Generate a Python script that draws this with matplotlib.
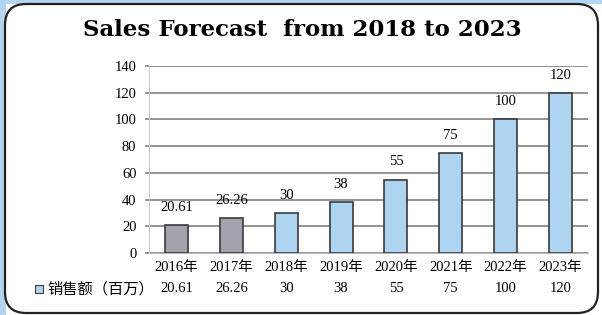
import matplotlib
matplotlib.use("Agg")
import matplotlib.pyplot as plt
from matplotlib.patches import FancyBboxPatch, Rectangle
import matplotlib.transforms as mtransforms

years = ["2016年", "2017年", "2018年", "2019年", "2020年", "2021年", "2022年", "2023年"]
sales = [20.61, 26.26, 30, 38, 55, 75, 100, 120]
value_labels = ["20.61", "26.26", "30", "38", "55", "75", "100", "120"]
is_actual = [True, True, False, False, False, False, False, False]
series_name = "销售额（百万）"
title = "Sales Forecast  from 2018 to 2023"
yticks = [0, 20, 40, 60, 80, 100, 120, 140]

FONT = ["Liberation Serif", "Noto Sans CJK SC", "DejaVu Sans"]
plt.rcParams["font.family"] = FONT

GRAY = "#a4a3ad"
BLUE = "#aed4f1"
EDGE = "#3a3a3a"

fig = plt.figure(figsize=(6.02, 3.15), dpi=100)
fig.patch.set_facecolor("white")

# light blue page edge on the left and top
fig.add_artist(Rectangle((0, 0), 6 / 602, 1, transform=fig.transFigure,
                         facecolor="#b3d5f0", edgecolor="none", zorder=-20))
fig.add_artist(Rectangle((0, 1 - 4 / 315), 1, 4 / 315, transform=fig.transFigure,
                         facecolor="#b3d5f0", edgecolor="none", zorder=-20))

# rounded white frame, behind the axes
frame = FancyBboxPatch((5 / 602, 2 / 315), 593 / 602, 309 / 315,
                       boxstyle="round,pad=0,rounding_size=0.035",
                       transform=fig.transFigure, facecolor="white",
                       edgecolor="#222222", linewidth=1.6,
                       mutation_aspect=602 / 315, zorder=-10)
fig.add_artist(frame)

fig.text(0.502, 1 - 30 / 315, title, ha="center", va="center",
         fontsize=16.5, fontweight="bold", family=["DejaVu Serif"])

ax = fig.add_axes([149 / 602, 1 - 253 / 315, 439 / 602, 187 / 315])
ax.set_facecolor("none")

x = range(len(years))
colors = [GRAY if a else BLUE for a in is_actual]
ax.bar(x, sales, width=0.42, color=colors, edgecolor=EDGE, linewidth=1.2, zorder=3)

for xi, v, lab in zip(x, sales, value_labels):
    ax.annotate(lab, (xi, v), xytext=(0, 8), textcoords="offset points",
                ha="center", va="bottom", fontsize=10.5)

ax.set_xlim(-0.5, len(years) - 0.5)
ax.set_ylim(0, 140)
ax.set_yticks(yticks)
ax.yaxis.grid(True, color="#8a8a8a", linewidth=1.3, zorder=0)
ax.set_axisbelow(True)
ax.tick_params(axis="y", length=3, color="#8a8a8a", width=1.3, labelsize=10.5, pad=6)
ax.tick_params(axis="x", length=0, labelsize=10.5, pad=6)
ax.set_xticks(list(x))
ax.set_xticklabels(years)
for s in ["top", "right"]:
    ax.spines[s].set_visible(False)
ax.spines["left"].set_color("#cccccc")
ax.spines["bottom"].set_color("#bbbbbb")

# data table row
trans = mtransforms.blended_transform_factory(ax.transData, fig.transFigure)
row_y = 1 - 289 / 315
for xi, lab in zip(x, value_labels):
    ax.text(xi, row_y, lab, transform=trans, ha="center", va="center", fontsize=10.5)
fig.text(47 / 602, row_y, series_name, ha="left", va="center", fontsize=11)
fig.add_artist(Rectangle((35 / 602, row_y - 4 / 315), 8 / 602, 8 / 315,
                         transform=fig.transFigure, facecolor=BLUE,
                         edgecolor=EDGE, linewidth=0.8))

fig.savefig("out.png", dpi=100, facecolor=fig.get_facecolor())
